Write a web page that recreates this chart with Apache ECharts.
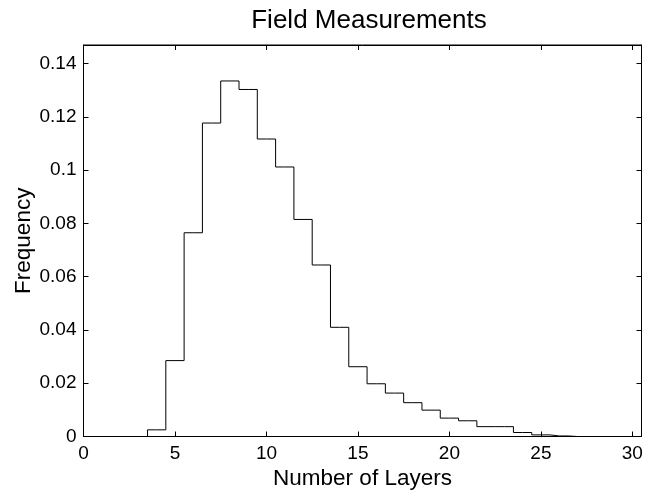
<!DOCTYPE html>
<html>
<head>
<meta charset="utf-8">
<script src="https://cdn.jsdelivr.net/npm/echarts@6/dist/echarts.min.js"></script>
<style>
  html, body { margin: 0; padding: 0; background: #fff; }
  #chart { width: 657px; height: 494px; }
</style>
</head>
<body>
<div id="chart"></div>
<script>
// bin centres (number of layers) and relative frequency per bin
const binCenters = [3, 4, 5, 6, 7, 8, 9, 10, 11, 12, 13, 14, 15, 16, 17, 18, 19, 20, 21, 22, 23, 24, 25, 26, 27];
const frequency = [0, 0.0025, 0.0285, 0.0765, 0.1177, 0.1335, 0.1303, 0.1117, 0.1012, 0.0815, 0.0644, 0.041, 0.0262, 0.0198, 0.0163, 0.0127, 0.0099, 0.0069, 0.0059, 0.0037, 0.0037, 0.0015, 0.0006, 0.0002, 0];

const xTicks = [0, 5, 10, 15, 20, 25, 30];
const yTicks = [0, 0.02, 0.04, 0.06, 0.08, 0.1, 0.12, 0.14];

const chart = echarts.init(document.getElementById('chart'), null, { renderer: 'canvas' });

const font = '"Liberation Sans", Arial, Helvetica, sans-serif';
const onTick = (list) => (v) => list.some((t) => Math.abs(t - v) < 1e-9) ? String(parseFloat(v.toFixed(2))) : '';

const tick = () => ({ show: true, inside: true, length: 5, lineStyle: { color: '#000', width: 1 } });
const line = () => ({ show: true, onZero: false, lineStyle: { color: '#000', width: 1 } });

chart.setOption({
  animation: false,
  backgroundColor: '#fff',
  textStyle: { fontFamily: font },
  title: {
    text: 'Field Measurements',
    left: 364,
    top: 3,
    textAlign: 'center',
    textStyle: { fontFamily: font, fontSize: 26, fontWeight: 'normal', color: '#000' },
  },
  grid: {
    left: 83.5,
    right: 15.5,
    top: 45,
    bottom: 57.5,
    containLabel: false,
    outerBoundsMode: 'none',
    show: true,
    borderColor: '#000',
    borderWidth: 1,
    backgroundColor: 'transparent',
  },
  xAxis: [
    {
      type: 'value',
      min: 0,
      max: 30.5,
      interval: 5,
      name: 'Number of Layers',
      nameLocation: 'middle',
      nameGap: 31,
      nameMoveOverlap: false,
      nameTextStyle: { fontFamily: font, fontSize: 22.5, color: '#000' },
      axisLine: line(),
      axisTick: tick(),
      axisLabel: { color: '#000', fontSize: 19, margin: 8, formatter: onTick(xTicks) },
      splitLine: { show: false },
    },
    {
      type: 'value',
      position: 'top',
      min: 0,
      max: 30.5,
      interval: 5,
      axisLine: line(),
      axisTick: tick(),
      axisLabel: { show: false },
      splitLine: { show: false },
    },
  ],
  yAxis: [
    {
      type: 'value',
      min: 0,
      max: 0.147,
      interval: 0.02,
      name: 'Frequency',
      nameLocation: 'middle',
      nameGap: 48,
      nameMoveOverlap: false,
      nameTextStyle: { fontFamily: font, fontSize: 22.5, color: '#000' },
      axisLine: line(),
      axisTick: tick(),
      axisLabel: { color: '#000', fontSize: 19, margin: 7, formatter: onTick(yTicks) },
      splitLine: { show: false },
    },
    {
      type: 'value',
      position: 'right',
      min: 0,
      max: 0.147,
      interval: 0.02,
      axisLine: line(),
      axisTick: tick(),
      axisLabel: { show: false },
      splitLine: { show: false },
    },
  ],
  series: [
    {
      type: 'line',
      step: 'middle',
      xAxisIndex: 0,
      yAxisIndex: 0,
      showSymbol: false,
      lineStyle: { color: '#000', width: 1 },
      data: binCenters.map((x, i) => [x, frequency[i]]),
    },
  ],
});
</script>
</body>
</html>
